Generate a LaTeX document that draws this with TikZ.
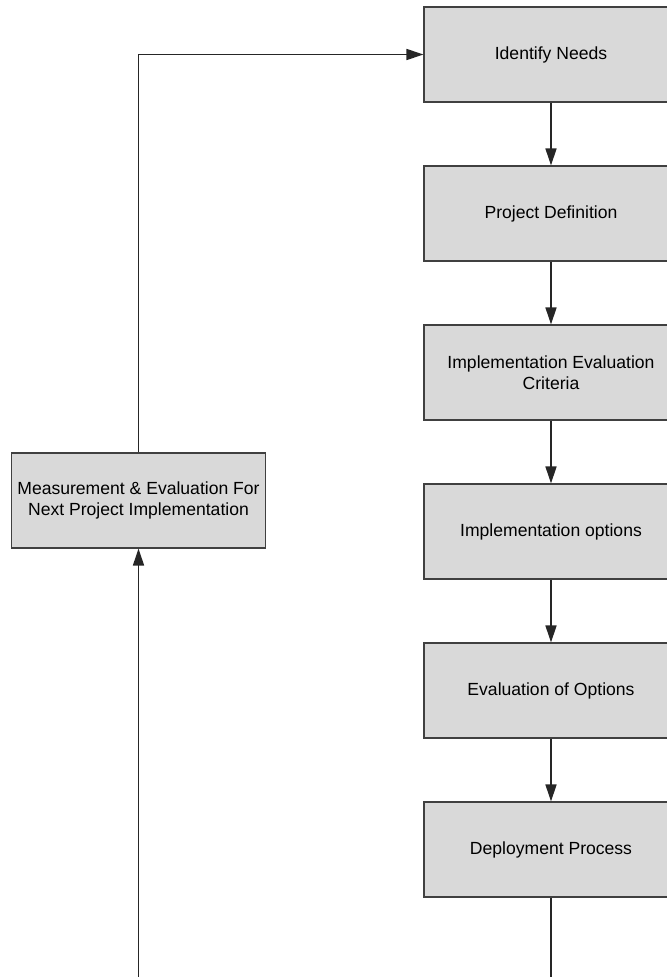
\documentclass[tikz,border=0pt]{standalone}
\usepackage{fontspec}
\setmainfont{Liberation Sans}
\usetikzlibrary{arrows.meta}
\newcommand{\XMax}{13.34}
\newcommand{\YMax}{19.54}
\newcommand{\XRight}{11.02}
\newcommand{\XLeft}{2.77}
\newcommand{\YTop}{1.09}
\newcommand{\YMeasure}{10.01}
\newcommand{\StepSep}{3.18}
\newcommand{\BoxW}{5.08}
\newcommand{\BoxH}{1.9}
\colorlet{BoxFill}{black!15}
\colorlet{BoxLine}{black!75}
\colorlet{FlowLine}{black!85}

\begin{document}
\begin{tikzpicture}[
  >=Triangle,
  stepbox/.style={draw=BoxLine,fill=BoxFill,line width=0.6pt,
    minimum width=\BoxW cm,minimum height=\BoxH cm,inner sep=0pt,
    align=center,font=\fontsize{10}{12}\selectfont},
  link/.style={draw=FlowLine,line width=0.8pt},
  flow/.style={link,-{Triangle[length=3.4mm,width=2.2mm]}}
]
\clip (0,0) rectangle (\XMax,-\YMax);

% Main column
\foreach \txt [count=\i] in {Identify Needs,Project Definition,
    {Implementation Evaluation\\Criteria},Implementation options,
    Evaluation of Options,Deployment Process}{%
  \node[stepbox] (S\i) at (\XRight,{-\YTop-(\i-1)*\StepSep}) {\txt};
}

% Feedback box
\node[stepbox] (M) at (\XLeft,-\YMeasure)
  {Measurement \& Evaluation For\\Next Project Implementation};

% Connections
\foreach \i [evaluate=\i as \j using int(\i+1)] in {1,...,5}{%
  \draw[flow] (S\i.south) -- (S\j.north);
}
\coordinate (endR) at (\XRight,-\YMax);
\coordinate (endL) at (\XLeft,-\YMax);
\draw[link] (S6.south) -- (endR);
\draw[flow] (endL) -- (M.south);
\draw[flow] (M.north) |- (S1.west);

\end{tikzpicture}
\end{document}
